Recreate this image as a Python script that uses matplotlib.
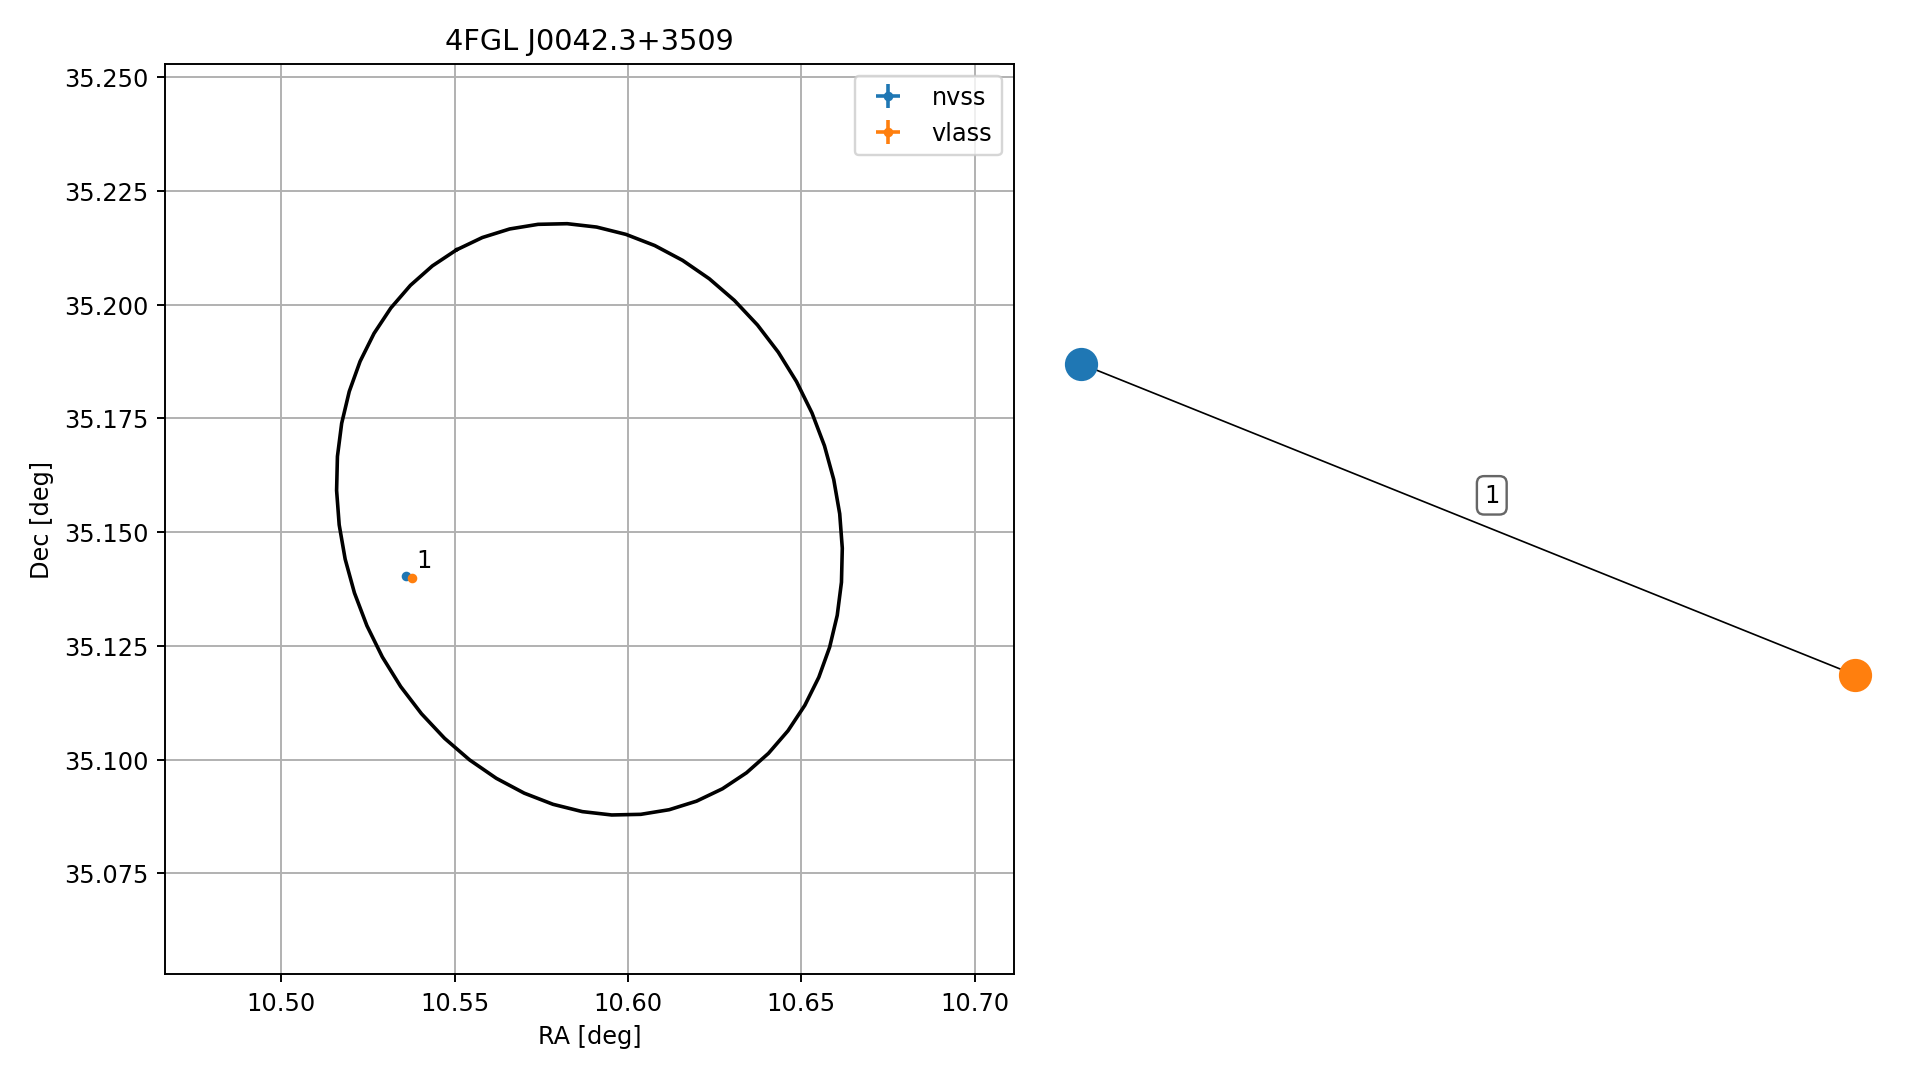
import numpy as np
import matplotlib
matplotlib.use("Agg")
import matplotlib.pyplot as plt

# 4FGL source and its error ellipse (sky-plane semi-axes in deg, angle from +RA axis)
src_name = "4FGL J0042.3+3509"
src_ra = 10.5889
src_dec = 35.1528
ell_a = 0.0670
ell_b = 0.0574
ell_ang = 117.9
radius = 0.1

# radio counterparts
surveys = ["nvss", "vlass"]
ra = [10.5361, 10.5376]
dec = [35.1404, 35.1398]
ra_err = [0.0002, 0.0001]
dec_err = [0.0002, 0.0001]
match_ids = ["1"]

# graph of matches (layout positions)
node_pos = {"nvss": (-1.0, 0.4), "vlass": (1.0, -0.4)}
edges = [("nvss", "vlass", "1")]

colors = ["tab:blue", "tab:orange"]

DPI = 172.8
fig = plt.figure(figsize=(1919.4 / DPI, 1079.6 / DPI), dpi=DPI)
ax = fig.add_axes([0.0861, 0.0969, 0.442, 0.843])

# error ellipse as polygon
t = np.linspace(0, 2 * np.pi, 55)
phi = np.radians(ell_ang)
cosd = np.cos(np.radians(src_dec))
ex = src_ra + (ell_a * np.cos(t) * np.cos(phi) - ell_b * np.sin(t) * np.sin(phi)) / cosd
ey = src_dec + ell_a * np.cos(t) * np.sin(phi) + ell_b * np.sin(t) * np.cos(phi)
ax.plot(ex, ey, color="k")

for i, s in enumerate(surveys):
    ax.errorbar(ra[i], dec[i], xerr=ra_err[i], yerr=dec_err[i], fmt=".",
                color=colors[i], label=s)

ax.annotate(match_ids[0], (np.mean(ra), np.mean(dec)), xytext=(3, 4),
            textcoords="offset points")

ax.set_xlim(src_ra - radius / cosd, src_ra + radius / cosd)
ax.set_ylim(src_dec - radius, src_dec + radius)
ax.grid(True)
ax.set_axisbelow(True)
ax.legend(loc="upper right")
ax.set_title(src_name)
ax.set_xlabel("RA [deg]")
ax.set_ylabel("Dec [deg]")

# match graph
ax2 = fig.add_axes([0.545, 0.0969, 0.445, 0.843])
for u, v, lab in edges:
    (x0, y0), (x1, y1) = node_pos[u], node_pos[v]
    ax2.plot([x0, x1], [y0, y1], color="k", lw=0.7, zorder=1)
    ax2.annotate(lab, ((x0 + x1) / 2, (y0 + y1) / 2), xytext=(10, 10),
                 textcoords="offset points", ha="center", va="center",
                 bbox=dict(boxstyle="round", ec="0.4", fc="white"))
for i, s in enumerate(surveys):
    ax2.scatter(*node_pos[s], s=165, color=colors[i], zorder=2)
ax2.set_xlim(-1.0903, 1.118)
ax2.set_ylim(-1.171, 1.171)
ax2.axis("off")

fig.savefig("out.png", dpi=DPI)
